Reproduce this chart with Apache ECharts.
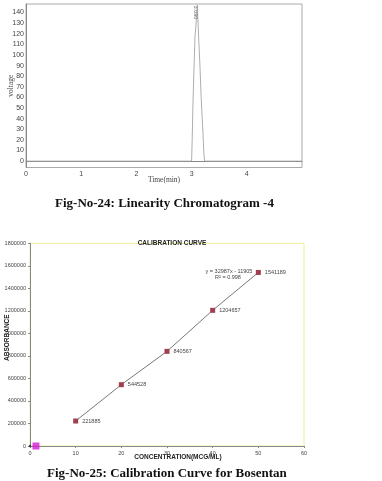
<!DOCTYPE html>
<html>
<head>
<meta charset="utf-8">
<script src="https://cdn.jsdelivr.net/npm/echarts@6/dist/echarts.min.js"></script>
<style>html,body{margin:0;padding:0;background:#fff}#c{width:382px;height:481px}</style>
</head>
<body>
<div id="c"></div>
<script>
// Chromatogram (Fig-No-24)
const chromTime = [0, 3.000, 3.012, 3.024, 3.042, 3.061, 3.091, 3.103, 3.127, 3.152, 3.170, 3.182, 3.206, 3.224, 3.235, 5];
const chromVoltage = [0, 0, 23, 54, 84, 117, 136, 147, 117, 89, 64, 51, 26, 6, 0, 0];
const peakTime = 3.103, peakVoltage = 147, peakLabel = '3.090';
const voltageTicks = [0,10,20,30,40,50,60,70,80,90,100,110,120,130,140];

// Calibration curve (Fig-No-25)
const concentration = [10, 20, 30, 40, 50];
const absorbance = [221885, 544528, 840567, 1204657, 1541189];
const strayPoint = [1.3, 0];
const originPoint = [0, 0];
const equationText = 'y = 32987x - 11905';
const r2Text = 'R² = 0.998';

const chart = echarts.init(document.getElementById('c'), null, {renderer: 'canvas'});
const tickFont = {fontFamily: 'Liberation Sans, Arial', color: '#444'};

chart.setOption({
  animation: false,
  backgroundColor: '#fff',
  title: [
    {text: 'CALIBRATION CURVE', left: 167, top: 235, textAlign: 'center',
     textStyle: {fontFamily: 'Liberation Sans, Arial', fontWeight: 'bold', fontSize: 6.5, color: '#222'}}
  ],
  grid: [
    {left: 26, top: 4, right: 80, bottom: 313.5, show: true, borderColor: '#aaa', borderWidth: 1, containLabel: false, outerBoundsMode: 'none'},
    {left: 30, top: 243.3, right: 78, bottom: 35, show: true, borderColor: '#eeee99', borderWidth: 1, containLabel: false, outerBoundsMode: 'none'}
  ],
  xAxis: [
    {gridIndex: 0, type: 'value', min: 0, max: 5, interval: 1,
     name: 'Time(min)', nameLocation: 'middle', nameGap: 9, nameMoveOverlap: false,
     nameTextStyle: {fontFamily: 'Liberation Serif, serif', fontSize: 7.5, color: '#444'},
     axisLine: {lineStyle: {color: '#888', width: 1}}, axisTick: {show: false}, splitLine: {show: false},
     axisLabel: Object.assign({fontSize: 7, margin: 3, formatter: v => v === 5 ? '' : String(v)}, tickFont)},
    {gridIndex: 1, type: 'value', min: 0, max: 60, interval: 10,
     name: 'CONCENTRATION(MCG/ML)', nameLocation: 'middle', nameGap: 8, nameMoveOverlap: false,
     nameTextStyle: {fontFamily: 'Liberation Sans, Arial', fontWeight: 'bold', fontSize: 6.5, color: '#222', padding: [0, 0, 0, 22]},
     axisLine: {onZero: false, lineStyle: {color: '#888', width: 1}},
     axisTick: {show: true, length: 2, inside: false, lineStyle: {color: '#888'}}, splitLine: {show: false},
     axisLabel: Object.assign({fontSize: 5.5, margin: 4}, tickFont)}
  ],
  yAxis: [
    {gridIndex: 0, type: 'value', min: -6, max: 148,
     name: 'voltage', nameLocation: 'middle', nameGap: 11, nameRotate: 90, nameMoveOverlap: false,
     nameTextStyle: {fontFamily: 'Liberation Serif, serif', fontSize: 7.5, color: '#444'},
     axisLine: {show: true, lineStyle: {color: '#888', width: 1}}, axisTick: {show: false, customValues: voltageTicks}, splitLine: {show: false},
     axisLabel: Object.assign({fontSize: 7, margin: 2, customValues: voltageTicks}, tickFont)},
    {gridIndex: 1, type: 'value', min: 0, max: 1800000, interval: 200000,
     name: 'ABSORBANCE', nameLocation: 'middle', nameGap: 19, nameRotate: 90, nameMoveOverlap: false,
     nameTextStyle: {fontFamily: 'Liberation Sans, Arial', fontWeight: 'bold', fontSize: 6.5, color: '#222', padding: [0, 0, 0, 14]},
     axisLine: {show: true, onZero: false, lineStyle: {color: '#888', width: 1}},
     axisTick: {show: true, length: 2, lineStyle: {color: '#888'}}, splitLine: {show: false},
     axisLabel: Object.assign({fontSize: 5.5, margin: 4, formatter: v => String(v)}, tickFont)}
  ],
  series: [
    {type: 'line', xAxisIndex: 0, yAxisIndex: 0, symbol: 'none',
     data: chromTime.map((t, i) => [t, chromVoltage[i]]),
     lineStyle: {color: '#999', width: 0.8}},
    {type: 'scatter', xAxisIndex: 0, yAxisIndex: 0, symbolSize: 1,
     itemStyle: {color: 'rgba(0,0,0,0)'},
     data: [[peakTime, peakVoltage]],
     label: {show: true, formatter: peakLabel, rotate: -90, position: [-1, 1], align: 'left', verticalAlign: 'middle',
       fontFamily: 'Liberation Sans, Arial', fontSize: 5.5, color: '#444'}},
    {type: 'line', xAxisIndex: 1, yAxisIndex: 1, symbol: 'rect', symbolSize: 5,
     data: concentration.map((c, i) => [c, absorbance[i]]),
     lineStyle: {color: '#555', width: 0.8},
     itemStyle: {color: '#a0404f'},
     label: {show: true, position: 'right', distance: 4, formatter: p => String(p.value[1]),
       fontFamily: 'Liberation Sans, Arial', fontSize: 5.5, color: '#444'}},
    {type: 'scatter', xAxisIndex: 1, yAxisIndex: 1, symbol: 'rect', symbolSize: 7,
     itemStyle: {color: '#d61ad6'}, data: [strayPoint]},
    {type: 'scatter', xAxisIndex: 1, yAxisIndex: 1, symbol: 'circle', symbolSize: 2.5,
     itemStyle: {color: '#222244'}, data: [originPoint]}
  ],
  graphic: [
    {type: 'text', x: 55, y: 204,
     style: {text: 'Fig-No-24: Linearity Chromatogram -4', font: 'bold 13px "Liberation Serif", serif', fill: '#111', verticalAlign: 'middle'}},
    {type: 'text', x: 47, y: 473.5,
     style: {text: 'Fig-No-25: Calibration Curve for Bosentan', font: 'bold 13px "Liberation Serif", serif', fill: '#111', verticalAlign: 'middle'}},
    {type: 'text', x: 229, y: 271.5,
     style: {text: equationText, font: '5.5px "Liberation Sans", Arial', fill: '#444', align: 'center', verticalAlign: 'middle'}},
    {type: 'text', x: 228, y: 277,
     style: {text: r2Text, font: '5.5px "Liberation Sans", Arial', fill: '#444', align: 'center', verticalAlign: 'middle'}}
  ]
});
</script>
</body>
</html>
